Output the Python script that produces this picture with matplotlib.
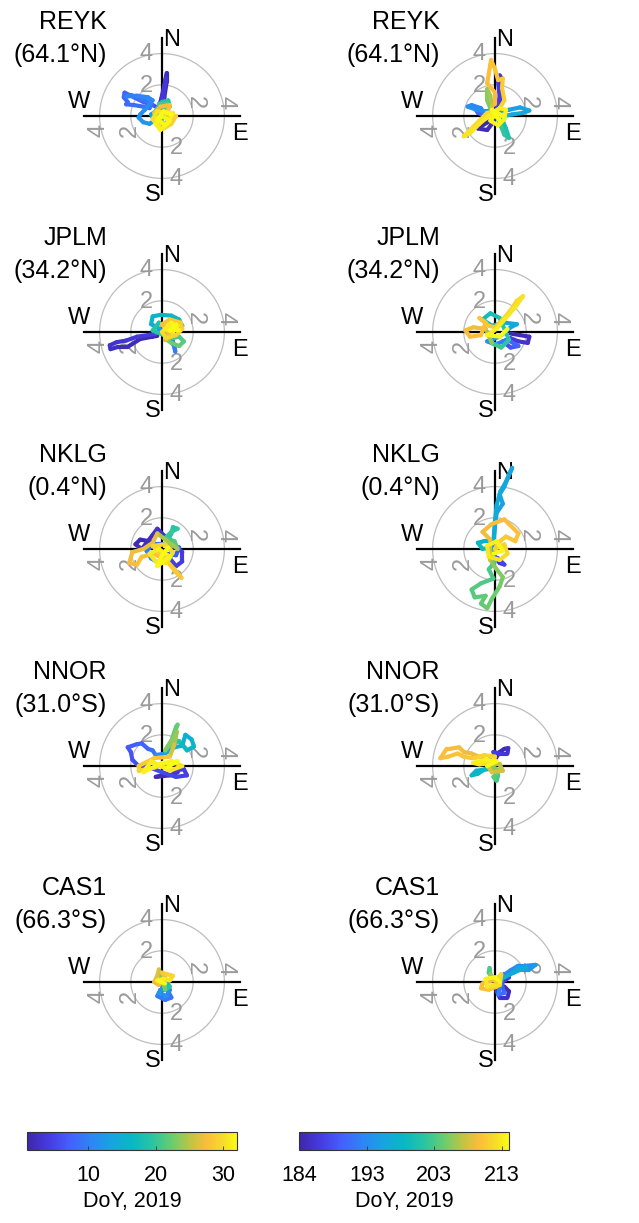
import matplotlib
matplotlib.use("Agg")
import matplotlib.pyplot as plt
import numpy as np
from matplotlib.collections import LineCollection
from matplotlib.colors import LinearSegmentedColormap, Normalize
from matplotlib.cm import ScalarMappable

plt.rcParams['font.family'] = ['Liberation Sans', 'DejaVu Sans']

# ---------------------------------------------------------------- data
stations = ["REYK", "JPLM", "NKLG", "NNOR", "CAS1"]
latitudes = ["(64.1°N)", "(34.2°N)", "(0.4°N)", "(31.0°S)", "(66.3°S)"]
ring_radii = [2, 4]

jan_limits = [1, 32]
jan_ticks = [10, 20, 30]
jan_ticklabels = ["10", "20", "30"]
jul_limits = [184, 214]
jul_ticks = [184, 193.67, 203.33, 213]
jul_ticklabels = ["184", "193", "203", "213"]
cbar_label = "DoY, 2019"

# tracks: (day of year, east, north)
reyk_jan = [
    (1.0, 0.0, 0.3), (1.3, 0.15, 1.2), (1.6, 0.3, 2.2), (1.9, 0.3, 2.75), (2.2, 0.15, 2.0),
    (2.5, 0.0, 1.3), (2.8, -0.15, 0.7), (3.1, 0.1, 1.5), (3.4, 0.25, 2.4), (3.7, 0.05, 1.0),
    (4.0, -0.2, 0.5),
    (7.0, -0.6, 0.7), (7.2, -1.2, 0.9), (7.4, -1.8, 1.2), (7.6, -2.4, 1.5), (7.8, -2.45, 1.2),
    (8.0, -2.2, 0.9), (8.2, -2.3, 0.75), (8.4, -1.8, 0.7), (8.6, -1.2, 0.6), (8.8, -0.8, 0.5),
    (9.0, -0.7, 0.8), (9.3, -1.3, 1.1), (9.6, -2.0, 1.35), (9.9, -2.3, 1.25), (10.2, -1.6, 1.3),
    (10.5, -0.9, 1.2), (10.8, -0.6, 1.0),
    (11.2, -1.1, 0.4), (11.5, -1.4, 0.1), (11.8, -1.5, -0.1), (12.1, -1.2, -0.4),
    (12.4, -0.8, -0.5), (12.7, -0.5, -0.3), (13.0, -0.7, 0.1),
    (14.0, -0.4, 0.3), (14.6, -0.2, 0.6), (15.2, 0.1, 0.4), (15.8, -0.3, 0.1), (16.4, 0.0, -0.2),
    (18.0, -0.3, 0.5), (18.5, 0.0, 0.9), (19.0, 0.4, 1.0), (19.5, 0.5, 0.6), (20.0, 0.2, 0.4),
    (20.5, -0.2, 0.8), (21.0, 0.3, 0.8), (21.5, 0.1, 0.2),
    (24.0, 0.4, 0.3), (24.6, 0.5, -0.1), (25.2, 0.2, -0.5), (25.8, -0.3, -0.3), (26.4, -0.5, 0.2),
    (27.0, -0.1, 0.6), (27.6, 0.5, 0.7), (28.2, 0.3, 0.1),
    (28.6, 0.6, -0.1), (28.9, 0.9, 0.0), (29.2, 0.6, -0.5), (29.5, 0.1, -0.8), (29.8, -0.3, -0.6),
    (30.1, -0.6, -0.2), (30.4, -0.3, 0.3), (30.6, 0.3, 0.2), (30.8, 0.7, 0.2), (31.0, 0.4, -0.4),
    (31.2, -0.1, -0.9), (31.4, -0.4, -0.5), (31.5, 0.0, 0.0), (31.6, 0.5, -0.3), (31.7, 0.2, -0.6),
    (31.8, -0.3, -0.2), (31.9, 0.1, 0.3), (32.0, 0.6, 0.1),
]

reyk_jul = [
    (184.0, -0.3, -0.3), (184.3, -0.8, -0.6), (184.6, -1.1, -0.8), (184.9, -0.5, -0.9),
    (185.2, -0.2, -0.5), (185.5, 0.2, 0.3), (185.8, 0.4, 1.5), (186.1, 0.45, 2.4),
    (186.4, 0.3, 2.6), (186.7, 0.2, 2.2), (187.0, 0.3, 1.2), (187.3, 0.0, 0.2),
    (188.0, -0.4, 0.1), (189.0, -0.9, 0.3), (190.0, -1.3, 0.5), (190.5, -1.1, 0.2), (191.0, -0.6, 0.0),
    (193.0, -0.9, 0.5), (193.4, -1.5, 0.7), (193.8, -1.75, 0.6), (194.2, -1.2, 0.4),
    (194.6, -0.6, 0.3), (195.0, 0.2, 0.3), (195.4, 0.9, 0.4), (195.8, 1.6, 0.55),
    (196.2, 2.2, 0.35), (196.6, 1.8, 0.2), (197.0, 1.1, 0.1), (197.4, 0.5, 0.0),
    (200.0, 0.5, -0.3), (200.6, 0.7, -0.8), (201.2, 0.9, -1.4), (201.8, 0.6, -1.2),
    (202.4, 0.4, -0.7), (203.0, 0.2, -0.2),
    (205.0, -0.3, 0.5), (205.5, -0.5, 1.0), (206.0, -0.5, 1.7), (206.5, -0.3, 1.3), (207.0, -0.2, 0.6),
    (209.5, 0.0, 0.8), (209.65, 0.0, 1.5), (209.8, -0.5, 2.1), (209.95, -0.4, 2.7),
    (210.1, -0.3, 3.3), (210.25, -0.25, 3.6), (210.4, 0.0, 3.0), (210.55, 0.2, 2.3),
    (210.7, 0.5, 2.4), (210.85, 0.45, 1.8), (211.0, 0.6, 1.0), (211.2, 0.3, 0.5),
    (211.5, 0.0, 0.3), (211.7, -0.5, 0.2), (211.9, -1.0, -0.3), (212.1, -1.5, -0.8),
    (212.3, -2.0, -1.3), (212.5, -1.6, -1.1), (212.7, -1.0, -0.5), (212.9, -0.4, 0.0),
    (213.0, 0.3, 0.5), (213.2, 0.7, 0.4), (213.4, 0.6, -0.2), (213.5, 0.2, -0.6),
    (213.6, -0.3, -0.3), (213.7, 0.1, 0.2), (213.8, 0.5, 0.0), (213.9, -0.2, 0.4), (214.0, 0.3, -0.3),
]

jplm_jan = [
    (1.0, -0.3, -0.25), (1.3, -0.6, -0.3), (1.6, -1.4, -0.45), (1.9, -2.2, -0.95),
    (2.2, -2.8, -0.95), (2.5, -3.3, -1.1), (2.8, -3.35, -0.85), (3.1, -2.9, -0.65),
    (3.4, -2.3, -0.55), (3.7, -1.6, -0.3), (4.0, -0.9, -0.2), (4.3, -0.4, -0.1),
    (6.0, -0.3, 0.0), (7.0, -0.1, 0.2), (8.0, 0.1, -0.1),
    (9.0, 0.8, -0.9), (9.6, 0.85, -1.25), (10.2, 0.7, -0.6),
    (15.0, -0.3, 0.3), (15.4, -0.7, 0.5), (15.8, -0.6, 1.0), (16.2, -0.1, 1.1), (16.6, 0.6, 1.05),
    (17.0, 1.1, 0.8), (17.4, 1.3, 0.4), (17.8, 1.0, 0.1), (18.2, 0.4, 0.2), (18.6, -0.2, 0.6),
    (19.0, -0.6, 0.1),
    (20.0, 0.6, -0.4), (20.7, 1.1, -0.3), (21.4, 1.4, -0.6), (22.1, 1.1, -0.9), (22.6, 0.6, -0.7),
    (23.0, 0.3, -0.5),
    (26.0, 0.2, -0.5), (27.0, 0.5, -0.2),
    (28.0, 0.0, 0.5), (28.3, 0.5, 0.8), (28.6, 1.2, 0.6), (28.9, 1.3, 0.2), (29.2, 0.9, -0.2),
    (29.5, 0.3, -0.4), (29.8, 0.0, 0.0), (30.1, 0.4, 0.4), (30.4, 1.0, 0.4), (30.7, 0.7, 0.0),
    (31.0, 0.2, 0.2), (31.3, 0.6, 0.6), (31.6, 1.1, 0.1), (31.8, 0.5, 0.1), (32.0, 0.9, 0.5),
]

jplm_jul = [
    (184.0, 1.0, -0.1), (184.6, 1.6, -0.2), (185.2, 2.2, -0.3), (185.8, 2.1, -0.7),
    (186.4, 1.5, -0.6), (187.0, 1.0, -0.4),
    (188.0, 0.5, -0.6), (189.0, 1.0, -1.0), (190.0, 1.5, -0.9), (191.0, 0.8, -0.5),
    (194.0, 0.0, -0.8), (194.6, -0.5, -0.6), (195.2, 0.3, -0.3), (195.8, 1.0, 0.3),
    (196.4, 1.4, 0.5), (197.0, 0.6, 0.6),
    (199.0, -0.2, 0.4), (199.7, -0.8, 0.8), (200.4, -0.3, 1.2), (201.1, 0.3, 0.9),
    (201.8, 0.9, -0.5), (202.5, 0.4, -1.0), (203.2, -0.2, -0.7),
    (209.0, -0.6, 0.2), (209.2, -1.4, 0.3), (209.4, -1.9, 0.1), (209.6, -1.6, -0.3),
    (209.8, -0.9, -0.2), (210.0, -0.6, 0.6), (210.2, -1.0, 0.9), (210.5, -0.4, 0.4),
    (211.0, 0.0, 0.3), (211.3, 0.5, 0.8), (211.6, 1.0, 1.4), (211.9, 1.4, 2.0),
    (212.2, 1.8, 2.3), (212.5, 1.3, 1.6), (212.8, 0.7, 0.9), (213.1, 0.1, 0.2),
    (213.4, -0.5, -0.2), (213.7, 0.3, -0.3), (214.0, 0.8, 0.2),
]

nklg_jan = [
    (1.0, -0.2, 0.2), (1.3, -0.8, 0.5), (1.6, -1.4, 0.6), (1.9, -1.7, 0.3), (2.2, -1.3, 0.0),
    (2.5, -0.6, 0.9), (2.8, -0.3, 1.3), (3.1, 0.2, 0.8), (3.4, 0.8, 0.3), (3.7, 1.3, -0.2),
    (4.0, 1.3, -0.8), (4.3, 0.9, -1.1), (4.6, 0.5, -0.6),
    (5.0, 0.2, -0.3), (6.0, 0.9, -0.4), (7.0, 1.1, 0.1), (8.0, 0.5, 0.3), (9.0, -0.5, 0.3),
    (10.0, -1.0, -0.1),
    (12.0, -0.7, -0.6), (13.0, -0.2, -0.9), (14.0, 0.4, -0.7), (16.0, 0.7, -0.3),
    (18.0, 0.3, 0.4), (18.5, 0.6, 1.0), (19.0, 0.7, 1.4), (19.5, 1.0, 1.3), (20.0, 0.6, 1.1),
    (20.5, 0.2, 0.7), (21.0, 0.8, 0.5), (22.0, 1.0, 0.0),
    (26.5, -0.3, 1.0), (26.7, -0.6, 0.4), (26.9, -1.2, 0.0), (27.1, -1.9, -0.2),
    (27.3, -2.1, -0.9), (27.5, -1.6, -1.0), (27.7, -1.3, -0.5), (27.9, -0.5, -0.3),
    (28.1, 0.3, -0.8), (28.3, 0.8, -1.3), (28.5, 1.25, -1.85), (28.7, 0.9, -1.5),
    (28.9, 0.2, -0.6),
    (29.2, -0.6, 0.2), (29.5, 0.2, 0.3), (29.8, 0.7, -0.2), (30.1, 0.3, -0.9),
    (30.4, -0.4, -0.8), (30.7, -0.8, -0.3), (31.0, -0.2, 0.0), (31.3, 0.5, -0.5),
    (31.6, -0.3, -1.1), (31.8, 0.0, -0.4), (32.0, 0.4, 0.1),
]

nklg_jul = [
    (184.0, 0.0, -0.5), (185.5, 0.3, -0.9), (187.0, 0.6, -1.0), (188.5, 0.2, -0.6), (190.0, -0.3, -0.4),
    (195.0, -0.1, 0.3), (195.2, 0.0, 1.5), (195.4, 0.1, 2.3), (195.6, 0.5, 2.9),
    (195.8, 0.3, 3.5), (196.0, 0.6, 4.0), (196.2, 0.8, 4.5), (196.4, 1.1, 5.2),
    (196.6, 0.7, 4.3), (196.8, 0.35, 3.7), (197.0, 0.1, 2.8), (197.2, 0.0, 1.8),
    (197.5, -0.1, 0.5),
    (198.0, -0.7, 0.5), (198.7, -1.1, 0.4), (199.4, -0.8, 0.0), (200.0, -0.3, 0.1),
    (203.0, 0.0, -0.8), (203.2, -0.4, -1.3), (203.4, -0.1, -1.9), (203.6, -0.9, -2.2),
    (203.8, -1.5, -2.6), (204.0, -1.3, -3.1), (204.2, -0.6, -3.0), (204.4, -0.9, -3.5),
    (204.6, -0.5, -3.8), (204.8, -0.2, -3.2), (205.0, 0.3, -2.4), (205.3, 0.5, -1.8),
    (205.6, 0.1, -1.3), (206.0, -0.3, -0.7),
    (209.0, -0.3, 0.6), (209.2, -0.8, 1.1), (209.4, -0.2, 1.6), (209.6, 0.6, 1.9),
    (209.8, 0.9, 1.6), (210.0, 1.5, 1.0), (210.2, 1.3, 0.5), (210.5, 0.7, 0.8), (210.8, 0.2, 0.4),
    (211.0, 0.0, 0.0), (211.4, 0.6, 0.3), (211.8, 0.8, -0.3), (212.2, 0.3, -0.7),
    (212.6, -0.4, -0.5), (213.0, -0.5, 0.2), (213.4, 0.1, 0.5), (213.7, 0.5, -0.1), (214.0, -0.1, -0.3),
]

nnor_jan = [
    (1.0, 0.0, -0.6), (1.7, -0.4, -0.7), (2.4, 0.5, -0.6), (3.0, 1.0, -0.4),
    (4.0, 0.8, -0.3), (4.3, 1.4, -0.2), (4.6, 1.6, -0.6), (4.9, 0.9, -0.7), (5.2, 0.0, -0.4),
    (5.5, -1.0, 0.0), (5.8, -1.4, -0.1), (6.1, -1.9, 0.4), (6.4, -2.0, 0.9), (6.7, -2.2, 1.2),
    (7.0, -1.6, 1.4), (7.4, -1.3, 1.45), (7.8, -0.9, 1.1), (8.3, -0.6, 1.0), (9.0, -0.4, 0.7),
    (14.0, 0.2, 0.8), (14.4, 0.8, 1.2), (14.8, 1.3, 1.3), (15.2, 1.5, 2.0), (15.6, 1.9, 1.7),
    (16.0, 2.05, 1.25), (16.5, 1.6, 1.0), (17.0, 1.1, 1.6),
    (21.0, 0.5, 1.3), (21.5, 0.9, 2.5), (22.0, 1.0, 2.65), (22.5, 0.7, 1.8), (23.0, 0.2, 1.0),
    (23.4, 0.6, 1.5), (23.8, 0.95, 2.2), (24.2, 0.8, 1.4),
    (28.0, 0.5, 0.6), (28.4, -0.5, 0.5), (28.8, -1.5, 0.0), (29.2, -1.5, -0.3),
    (29.6, -0.5, -0.1), (30.0, 0.6, 0.3), (30.4, 1.3, 0.0), (30.8, 0.5, -0.3),
    (31.1, -0.7, 0.3), (31.4, -1.2, -0.4), (31.6, 0.0, 0.2), (31.8, 1.0, 0.3), (32.0, 0.3, -0.1),
]

nnor_jul = [
    (184.0, 0.0, 0.4), (184.5, 0.3, 0.9), (185.0, 0.6, 1.1), (185.5, 0.85, 1.15),
    (186.0, 0.8, 0.8), (186.5, 0.3, 0.8), (187.0, -0.1, 0.9),
    (188.0, 0.0, 0.5), (189.5, -0.3, 0.6), (191.0, 0.1, 0.2),
    (197.0, -0.4, -0.2), (197.6, -1.2, -0.3), (198.2, -1.5, -0.6), (198.8, -1.1, -0.5),
    (199.4, -0.5, -0.1),
    (202.0, 0.0, -0.3), (202.6, 0.2, -0.6), (203.2, 0.1, -0.95), (203.8, -0.1, -0.7),
    (204.4, 0.3, -0.3),
    (207.0, -0.5, 0.1), (207.4, 0.3, 0.1), (207.8, 0.5, -0.3), (208.2, -0.2, -0.4),
    (209.0, -0.8, 0.5), (209.15, -1.5, 0.8), (209.3, -2.0, 0.9), (209.45, -2.3, 1.2),
    (209.6, -2.9, 1.1), (209.75, -3.1, 1.1), (209.9, -3.5, 0.5), (210.05, -3.0, 0.6),
    (210.2, -2.4, 0.8), (210.35, -2.0, 0.6), (210.5, -1.5, 0.5),
    (211.0, -1.3, 0.5), (211.4, -0.7, 0.7), (211.8, 0.0, 0.6), (212.2, -0.2, 0.2),
    (212.6, -1.0, 0.1), (213.0, -1.4, 0.2), (213.4, -0.6, 0.4), (213.7, 0.1, 0.3), (214.0, -0.5, 0.0),
]

cas1_jan = [
    (8.0, 0.0, -0.3), (8.4, 0.4, -0.6), (8.8, 0.6, -1.0), (9.2, 0.2, -1.15), (9.6, -0.3, -0.9),
    (10.0, -0.1, -0.5), (10.4, 0.5, -0.5),
    (11.0, 0.3, -0.9), (12.0, -0.2, -0.7), (13.0, 0.1, -0.3),
    (17.0, 0.3, 0.0), (18.5, 0.5, -0.3), (20.0, 0.2, -0.5),
    (26.0, -0.2, 0.8), (26.4, -0.3, 0.4), (26.8, -0.5, 0.0), (27.2, -0.2, -0.2),
    (27.6, 0.2, 0.3), (28.0, 0.0, 0.6),
    (29.0, 0.3, 0.5), (29.6, 0.7, 0.4), (30.2, 0.5, 0.1), (30.8, 0.1, 0.2), (31.4, -0.3, 0.1),
    (32.0, 0.2, -0.1),
]

cas1_jul = [
    (184.0, 0.1, -0.2), (184.5, 0.6, -0.3), (185.0, 0.9, -0.6), (185.5, 0.8, -1.0),
    (186.0, 0.3, -1.0), (186.5, 0.1, -0.6), (187.0, 0.5, 0.0), (187.5, 0.9, 0.3), (188.0, 0.6, 0.5),
    (189.0, 0.3, 0.3), (190.5, 0.6, -0.7), (192.0, 0.2, -0.8),
    (193.0, 0.5, 0.4), (193.4, 1.0, 0.75), (193.8, 1.5, 1.05), (194.2, 2.1, 1.05),
    (194.6, 2.6, 1.1), (195.0, 2.2, 0.8), (195.4, 1.6, 0.8), (195.8, 1.1, 0.6),
    (196.2, 1.5, 0.9), (196.6, 2.0, 0.95), (197.0, 1.2, 0.6), (197.4, 0.6, 0.3),
    (202.0, -0.1, 0.2), (202.6, -0.4, 0.6), (203.2, -0.35, 0.9), (203.8, -0.3, 0.5),
    (209.0, -0.2, 0.1), (209.4, -0.8, -0.1), (209.8, -0.9, -0.4), (210.2, -0.4, -0.5),
    (210.6, 0.1, -0.3),
    (211.0, 0.0, 0.1), (211.5, 0.4, 0.5), (212.0, 0.3, -0.2), (212.5, -0.5, -0.3),
    (213.0, -0.6, 0.2), (213.5, 0.0, 0.3), (214.0, 0.3, 0.0),
]

jan_tracks = [reyk_jan, jplm_jan, nklg_jan, nnor_jan, cas1_jan]
jul_tracks = [reyk_jul, jplm_jul, nklg_jul, nnor_jul, cas1_jul]

# ---------------------------------------------------------------- style
parula = LinearSegmentedColormap.from_list("parula", [
    (0.00, (0.2422, 0.1504, 0.6603)),
    (0.10, (0.2700, 0.2300, 0.8800)),
    (0.20, (0.2700, 0.3700, 0.9900)),
    (0.30, (0.1800, 0.5200, 0.9700)),
    (0.40, (0.0900, 0.6400, 0.8800)),
    (0.50, (0.0300, 0.7200, 0.7700)),
    (0.60, (0.1700, 0.7700, 0.6300)),
    (0.70, (0.4400, 0.8000, 0.4200)),
    (0.78, (0.7500, 0.7700, 0.2600)),
    (0.86, (0.9900, 0.7400, 0.2300)),
    (0.93, (0.9700, 0.8500, 0.1700)),
    (1.00, (0.9769, 0.9839, 0.0805)),
])

W, H = 639, 1223
DPI = 100
PX_PER_UNIT = 15.6
HALF = 7.0                      # half-width of each panel, data units
col_x = [162, 495]
row_y = [116, 332, 549, 766, 982]

fig = plt.figure(figsize=(W / DPI, H / DPI), dpi=DPI)
fig.patch.set_facecolor("white")

GRAY_TXT = "#9a9a9a"
GRAY_RING = "#bdbdbd"


def panel_axes(cx, cy):
    half_px = HALF * PX_PER_UNIT
    rect = [(cx - half_px) / W, (H - cy - half_px) / H, 2 * half_px / W, 2 * half_px / H]
    ax = fig.add_axes(rect)
    ax.set_xlim(-HALF, HALF)
    ax.set_ylim(-HALF, HALF)
    ax.set_aspect("equal")
    ax.axis("off")
    return ax


def draw_panel(ax, name, lat, track, norm):
    t = np.linspace(0, 2 * np.pi, 361)
    for r in ring_radii:
        ax.plot(r * np.cos(t), r * np.sin(t), color=GRAY_RING, lw=0.9, zorder=1)
    ax.plot([-5, 5], [0, 0], color="black", lw=1.6, zorder=2)
    ax.plot([0, 0], [-5, 5], color="black", lw=1.6, zorder=2)

    for r in ring_radii:
        s = str(r)
        ax.text(-1.0, r - 0.05, s, color=GRAY_TXT, fontsize=17, ha="center", va="center", zorder=2)
        ax.text(0.9, -r - 0.05, s, color=GRAY_TXT, fontsize=17, ha="center", va="center", zorder=2)
        ax.text(r + 0.1, 0.85, s, color=GRAY_TXT, fontsize=17, ha="center", va="center",
                rotation=-90, zorder=2)
        ax.text(-r - 0.05, -0.95, s, color=GRAY_TXT, fontsize=17, ha="center", va="center",
                rotation=90, zorder=2)

    ax.text(0.05, 4.87, "N", fontsize=17, ha="left", va="center")
    ax.text(4.5, -1.15, "E", fontsize=17, ha="left", va="center")
    ax.text(-0.08, -5.06, "S", fontsize=17, ha="right", va="center")
    ax.text(-4.6, 0.9, "W", fontsize=17, ha="right", va="center")

    ax.text(-3.53, 6.02, name, fontsize=18, ha="right", va="center")
    ax.text(-3.53, 3.92, lat, fontsize=18, ha="right", va="center")

    arr = np.array(track, dtype=float)
    day, e, n = arr[:, 0], arr[:, 1], arr[:, 2]
    pts = np.column_stack([e, n]).reshape(-1, 1, 2)
    segs = np.concatenate([pts[:-1], pts[1:]], axis=1)
    lc = LineCollection(segs, cmap=parula, norm=norm, linewidths=3.0,
                        capstyle="round", joinstyle="round", zorder=3)
    lc.set_array(0.5 * (day[:-1] + day[1:]))
    ax.add_collection(lc)


norm_jan = Normalize(*jan_limits)
norm_jul = Normalize(*jul_limits)

for i in range(len(stations)):
    draw_panel(panel_axes(col_x[0], row_y[i]), stations[i], latitudes[i], jan_tracks[i], norm_jan)
    draw_panel(panel_axes(col_x[1], row_y[i]), stations[i], latitudes[i], jul_tracks[i], norm_jul)


def colorbar(x0, norm, ticks, labels):
    y0, w, h = 1132, 210, 18
    cax = fig.add_axes([x0 / W, (H - y0 - h) / H, w / W, h / H])
    cb = fig.colorbar(ScalarMappable(norm=norm, cmap=parula), cax=cax, orientation="horizontal")
    cb.set_ticks(ticks)
    cb.set_ticklabels(labels)
    cb.outline.set_linewidth(0.8)
    cb.outline.set_edgecolor("#333333")
    cax.tick_params(axis="x", direction="in", length=3, width=0.6, color="#333333",
                    labelsize=15.5, pad=11)
    fig.text((x0 + w / 2) / W, 1 - 1201 / H, cbar_label, fontsize=15.5, ha="center", va="center")


colorbar(27, norm_jan, jan_ticks, jan_ticklabels)
colorbar(299, norm_jul, jul_ticks, jul_ticklabels)

fig.savefig("out.png", dpi=DPI, facecolor="white")
